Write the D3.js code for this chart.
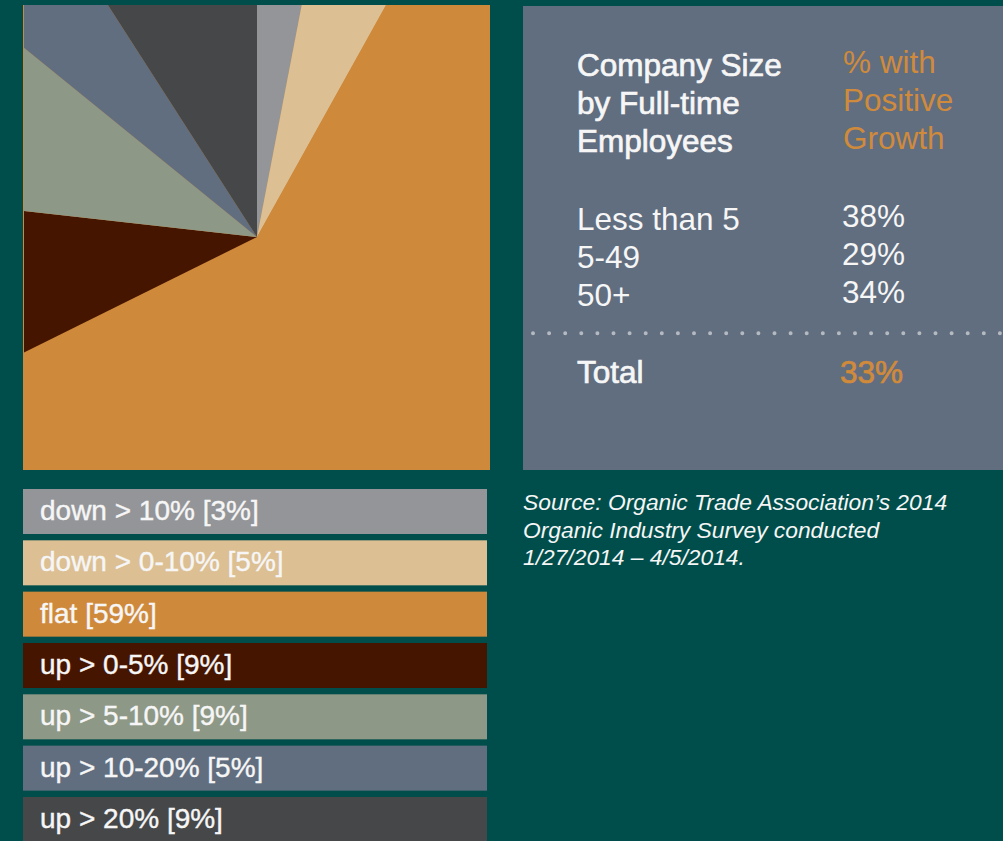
<!DOCTYPE html>
<html>
<head>
<meta charset="utf-8">
<script src="https://cdn.jsdelivr.net/npm/d3@7"></script>
<style>
  html, body { margin: 0; padding: 0; background: #004e4b; overflow: hidden; }
  svg { display: block; }
  text { font-family: "Liberation Sans", Arial, Helvetica, sans-serif; }
</style>
</head>
<body>
<svg id="chart" width="1003" height="841"></svg>
<script>
// Revenue change categories and share of respondents (%)
const categories = ["down > 10%", "down > 0-10%", "flat", "up > 0-5%", "up > 5-10%", "up > 10-20%", "up > 20%"];
const shares = [3, 5, 59, 9, 9, 5, 9];
const sliceColors = ["#939598", "#dcbf92", "#cf893b", "#461500", "#8e9886", "#616e80", "#454749"];

// Share of companies with positive growth, by company size
const sizeGroups = ["Less than 5", "5-49", "50+"];
const positiveGrowth = [38, 29, 34];
const totalPositive = 33;

const sourceLines = [
  "Source: Organic Trade Association\u2019s 2014",
  "Organic Industry Survey conducted",
  "1/27/2014 \u2013 4/5/2014."
];

const svg = d3.select("#chart");
const WHITE = "#f6f6f6";
const ORANGE = "#d08a3b";

// ---- Pie, cropped to a square panel ----
const box = { x: 23, y: 5, w: 467, h: 465 };
const center = { x: 257, y: 237 };

svg.append("defs").append("clipPath").attr("id", "pieClip")
  .append("rect").attr("x", box.x + 1).attr("y", box.y).attr("width", box.w - 1).attr("height", box.h);

svg.append("rect")
  .attr("x", box.x).attr("y", box.y).attr("width", box.w).attr("height", box.h)
  .attr("fill", sliceColors[2]);

const pie = d3.pie().sort(null).value(d => d);
const arc = d3.arc().innerRadius(0).outerRadius(420);
const color = d3.scaleOrdinal().domain(categories).range(sliceColors);

svg.append("g")
  .attr("clip-path", "url(#pieClip)")
  .append("g")
  .attr("transform", `translate(${center.x},${center.y})`)
  .selectAll("path")
  .data(pie(shares))
  .join("path")
  .attr("d", arc)
  .attr("fill", (d, i) => color(categories[i]));

// ---- Legend bars ----
const step = 51.33, barH = 45;
const y = d3.scaleBand()
  .domain(categories)
  .range([489, 489 + categories.length * step - (step - barH)])
  .paddingInner((step - barH) / step)
  .paddingOuter(0);

const legend = svg.append("g");
const rows = legend.selectAll("g").data(categories).join("g")
  .attr("transform", d => `translate(0,${y(d)})`);
rows.append("rect")
  .attr("x", 23).attr("width", 464)
  .attr("height", y.bandwidth())
  .attr("fill", d => color(d));
rows.append("text")
  .attr("x", 40).attr("y", 31)
  .attr("fill", WHITE)
  .attr("stroke", WHITE)
  .attr("stroke-width", 0.4)
  .attr("font-size", 28)
  .text((d, i) => `${d} [${shares[i]}%]`);

// ---- Table panel ----
const panel = svg.append("g");
panel.append("rect")
  .attr("x", 523).attr("y", 6).attr("width", 490).attr("height", 464)
  .attr("fill", "#616e80");

const colA = 577, colB = 843;
const medium = sel => sel.attr("stroke", sel.attr("fill")).attr("stroke-width", 0.7);

const headA = ["Company Size", "by Full-time", "Employees"];
const headB = ["% with", "Positive", "Growth"];
const headY = d3.scaleLinear().domain([0, 2]).range([76, 152]);

panel.selectAll("text.headA").data(headA).join("text")
  .attr("class", "headA")
  .attr("x", colA).attr("y", (d, i) => headY(i))
  .attr("font-size", 31.5).attr("fill", WHITE)
  .call(medium)
  .text(d => d);

panel.selectAll("text.headB").data(headB).join("text")
  .attr("class", "headB")
  .attr("x", colB).attr("y", (d, i) => headY(i) - 3)
  .attr("font-size", 31.5).attr("fill", ORANGE)
  .text(d => d);

const rowY = d3.scalePoint().domain(sizeGroups).range([229.5, 305.5]);

panel.selectAll("text.size").data(sizeGroups).join("text")
  .attr("class", "size")
  .attr("x", colA).attr("y", d => rowY(d))
  .attr("font-size", 31.5).attr("fill", WHITE)
  .text(d => d);

panel.selectAll("text.pct").data(positiveGrowth).join("text")
  .attr("class", "pct")
  .attr("x", colB - 1).attr("y", (d, i) => rowY(sizeGroups[i]) - 2.5)
  .attr("font-size", 31.5).attr("fill", WHITE)
  .text(d => `${d}%`);

// dotted separator
panel.append("line")
  .attr("x1", 533).attr("x2", 1010)
  .attr("y1", 333.3).attr("y2", 333.3)
  .attr("stroke", "#b5b9c0")
  .attr("stroke-width", 4)
  .attr("stroke-linecap", "round")
  .attr("stroke-dasharray", "0 16.1");

panel.append("text")
  .attr("x", colA).attr("y", 383)
  .attr("font-size", 31.5).attr("fill", WHITE)
  .call(medium)
  .text("Total");

panel.append("text")
  .attr("x", colB - 3).attr("y", 382.5)
  .attr("font-size", 31.5).attr("fill", ORANGE)
  .call(medium)
  .text(`${totalPositive}%`);

// ---- Source note ----
svg.append("g").selectAll("text").data(sourceLines).join("text")
  .attr("x", 523)
  .attr("y", (d, i) => 510 + i * 27.5)
  .attr("font-size", 22.8)
  .attr("font-style", "italic")
  .attr("fill", WHITE)
  .text(d => d);
</script>
</body>
</html>
